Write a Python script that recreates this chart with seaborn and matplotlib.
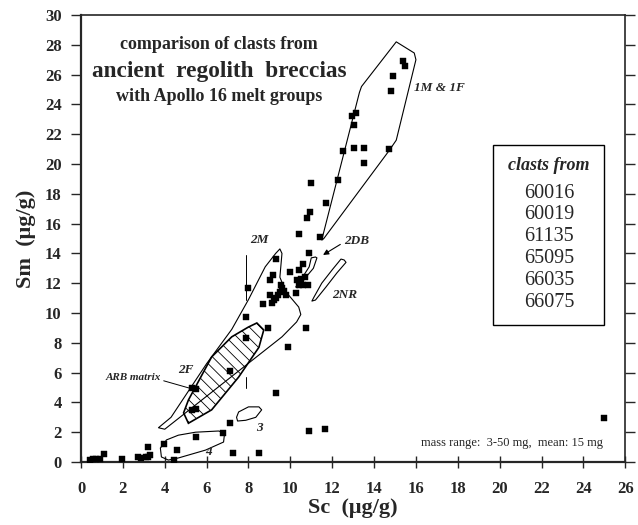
import matplotlib
matplotlib.use("Agg")
import matplotlib.pyplot as plt
from matplotlib.patches import Polygon
import seaborn as sns
import pandas as pd

# Clast compositions (Sc, Sm in ug/g)
sc = [15.4, 15.5, 14.9, 14.8, 12.95, 13.15, 13.05, 12.5, 13.05, 13.5, 13.5, 14.7,
      12.3, 11.7, 11.0, 10.95, 10.8, 11.4, 10.4,
      10.9, 10.6, 10.4, 10.0, 9.3, 9.15, 9.05, 10.3, 10.5, 10.7, 10.4, 10.6, 10.85,
      10.25, 9.6, 9.5, 9.4, 9.3, 9.2, 9.1, 9.05, 8.7, 7.96, 7.87, 8.92, 10.74, 7.9,
      9.88, 7.1, 9.3, 9.7, 9.55, 9.8,
      5.47, 5.3, 5.3, 5.47, 7.1, 6.76, 5.5, 3.98, 4.6, 7.24, 8.5, 3.2, 3.3, 3.1, 3.2,
      2.73, 2.88, 1.97, 1.1, 0.43, 0.58, 0.72, 0.9, 4.46, 10.9, 11.65, 25.0]
sm = [26.9, 26.6, 25.9, 24.9, 23.2, 23.4, 22.6, 20.9, 21.1, 21.1, 20.1, 21.0,
      18.9, 17.4, 18.7, 16.8, 16.4, 15.1, 15.3,
      14.0, 13.3, 12.9, 12.75, 13.6, 12.55, 12.2, 12.2, 12.3, 12.4, 11.9, 11.9, 11.9,
      11.35, 11.7, 11.4, 11.2, 11.0, 10.9, 10.7, 11.2, 10.6, 11.7, 9.73, 9.0, 9.0, 8.3,
      7.7, 6.1, 4.6, 11.5, 11.9, 11.2,
      4.9, 4.97, 3.5, 3.56, 2.6, 1.95, 1.7, 1.2, 0.8, 0.6, 0.6, 1.0, 0.5, 0.33, 0.34,
      0.34, 0.27, 0.2, 0.54, 0.13, 0.2, 0.2, 0.2, 0.13, 2.1, 2.2, 2.95]

# Apollo 16 melt-group fields (Sc, Sm outlines)
group_1m1f = [(11.5, 14.9), (13.3, 24.8), (13.4, 25.2), (15.06, 28.2), (15.92, 27.45),
              (16.0, 27.0), (15.06, 21.6), (14.72, 20.9), (11.6, 15.0)]
group_2m2f = [(3.7, 2.3), (4.3, 3.0), (6.0, 6.6), (7.2, 8.9), (8.0, 10.9), (8.8, 13.1),
              (9.3, 14.0), (9.5, 14.3), (9.6, 14.0), (9.5, 12.4), (9.8, 11.4),
              (10.4, 10.4), (10.5, 9.9), (10.3, 9.4), (9.6, 8.4), (4.0, 2.2)]
arb_matrix = [(8.4, 9.33), (8.73, 8.86), (8.5, 7.7), (7.53, 5.7), (6.24, 3.5),
              (5.13, 2.6), (4.9, 3.3), (5.13, 4.16), (6.24, 7.05), (7.2, 8.4), (8.0, 9.06)]
group_2db = [(11.2, 13.76), (11.0, 13.7), (10.9, 13.1), (10.4, 12.0), (10.26, 11.75),
             (10.35, 11.7), (10.74, 12.4), (11.1, 13.0), (11.27, 13.7)]
group_2nr = [(12.57, 13.56), (12.42, 13.62), (12.0, 12.9), (11.5, 12.0), (11.13, 11.07),
             (11.03, 10.8), (11.2, 10.87), (11.7, 11.74), (12.23, 12.7), (12.66, 13.4)]
group_3 = [(7.43, 3.0), (7.53, 3.36), (8.0, 3.7), (8.5, 3.7), (8.63, 3.5), (8.35, 3.0),
           (7.87, 2.8), (7.48, 2.75)]
group_4 = [(3.98, 1.27), (3.79, 0.94), (3.84, 0.34), (4.17, 0.13), (4.65, 0.27),
           (5.95, 0.8), (6.81, 1.34), (6.86, 1.95), (6.57, 2.08), (5.47, 2.0),
           (4.65, 1.8), (4.08, 1.48)]

clast_sources = ["60016", "60019", "61135", "65095", "66035", "66075"]
x_ticks = list(range(0, 27, 2))
y_ticks = list(range(0, 31, 2))

sns.set_style("ticks")
plt.rcParams["font.family"] = ["Liberation Serif", "DejaVu Serif"]
plt.rcParams["hatch.linewidth"] = 0.6

fig = plt.figure(figsize=(6.38, 5.25), dpi=100)
ax = fig.add_axes([0.127, 0.12, 0.853, 0.8514])

df = pd.DataFrame({"Sc": sc, "Sm": sm})
sns.scatterplot(data=df, x="Sc", y="Sm", marker="s", color="black", s=18,
                edgecolor="black", linewidth=0.3, ax=ax, zorder=3)

for verts in (group_1m1f, group_2m2f, group_2db, group_2nr, group_3, group_4):
    ax.add_patch(Polygon(verts, closed=True, fill=False, edgecolor="black",
                         linewidth=0.8, joinstyle="round"))
ax.add_patch(Polygon(arb_matrix, closed=True, fill=False, edgecolor="black",
                     linewidth=1.2, hatch="\\\\\\"))

# short vertical guides
ax.plot([7.9, 7.9], [10.9, 13.9], color="black", lw=0.7)
ax.plot([7.87, 7.87], [5.0, 5.7], color="black", lw=0.7)

ax.set_xlim(0, 26)
ax.set_ylim(0, 30)
ax.set_xticks(x_ticks)
ax.set_yticks(y_ticks)
ax.tick_params(axis="x", direction="inout", length=9, width=1.0, labelsize=12, pad=9)
ax.tick_params(axis="y", direction="out", length=7, width=1.0, labelsize=12,
               right=True, pad=7)
for lab in ax.get_xticklabels() + ax.get_yticklabels():
    lab.set_fontweight("bold")
for side in ("left", "bottom"):
    ax.spines[side].set_linewidth(1.6)
for side in ("top", "right"):
    ax.spines[side].set_linewidth(1.2)
    ax.spines[side].set_visible(True)

ax.set_xlabel("Sc  (μg/g)", fontsize=16, fontweight="bold", labelpad=1)
ax.set_ylabel("Sm  (μg/g)", fontsize=16, fontweight="bold", labelpad=6)

# titles
ax.text(6.6, 28.0, "comparison of clasts from", ha="center", va="center",
        fontsize=13, fontweight="bold")
ax.text(6.6, 26.2, "ancient  regolith  breccias", ha="center", va="center",
        fontsize=16.8, fontweight="bold")
ax.text(6.6, 24.55, "with Apollo 16 melt groups", ha="center", va="center",
        fontsize=13, fontweight="bold")

# group labels
lab_kw = dict(fontsize=9.5, fontweight="bold", style="italic", va="center")
ax.text(15.9, 25.1, "1M & 1F", ha="left", **lab_kw)
ax.text(8.1, 14.9, "2M", ha="left", **lab_kw)
ax.text(12.55, 14.8, "2DB", ha="left", **lab_kw)
ax.text(12.0, 11.2, "2NR", ha="left", **lab_kw)
ax.text(5.0, 6.2, "2F", ha="center", **lab_kw)
ax.text(8.5, 2.3, "3", ha="center", **lab_kw)
ax.text(6.1, 0.67, "4", ha="center", **lab_kw)
ax.text(2.5, 5.7, "ARB matrix", ha="center", fontsize=8, fontweight="bold",
        style="italic", va="center")
ax.plot([3.95, 5.45], [5.45, 4.85], color="black", lw=0.7)
ax.annotate("", xy=(11.45, 13.8), xytext=(12.5, 14.7),
            arrowprops=dict(arrowstyle="-|>", color="black", lw=0.8,
                            mutation_scale=8))

ax.text(24.95, 1.3, "mass range:  3-50 mg,  mean: 15 mg", ha="right",
        va="center", fontsize=9)

# sample key
ax.add_patch(plt.Rectangle((19.7, 9.2), 5.28, 12.1, fill=False,
                           edgecolor="black", linewidth=1.0, zorder=2))
ax.text(22.35, 19.9, "clasts from", ha="center", va="center", fontsize=13,
        fontweight="bold", style="italic")
for i, name in enumerate(clast_sources):
    ax.text(22.35, 18.05 - 1.47 * i, name, ha="center", va="center", fontsize=14.5)

fig.savefig("out.png", dpi=100)
